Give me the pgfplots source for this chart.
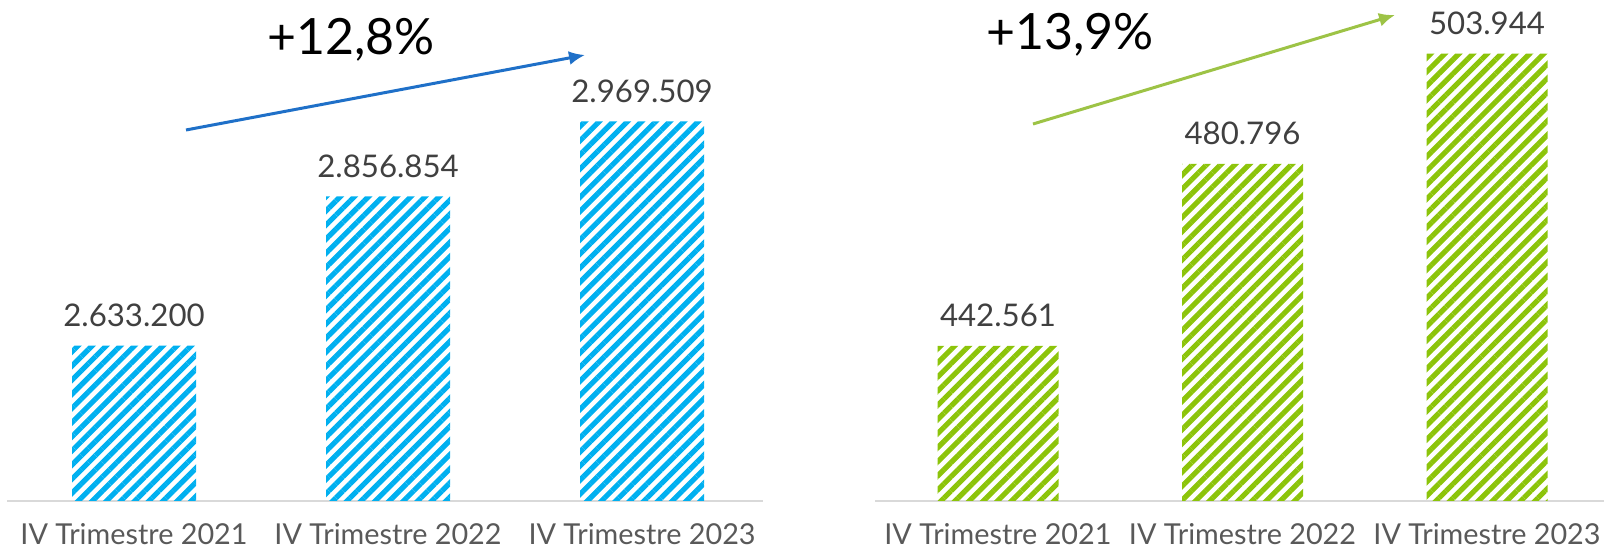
\documentclass[border=0pt]{standalone}
\usepackage{fontspec}
\setmainfont{Lato}
\usepackage{pgfplots}
\pgfplotsset{compat=1.18}
\usetikzlibrary{patterns.meta,arrows.meta}

\definecolor{barblue}{HTML}{00B0F0}
\definecolor{bargreen}{HTML}{8CC40A}
\definecolor{arrblue}{HTML}{1F70C8}
\definecolor{arrgreen}{HTML}{9DC346}
\definecolor{valgray}{HTML}{404040}
\definecolor{tickgray}{HTML}{595959}
\definecolor{axisgray}{HTML}{D9D9D9}

\pgfplotsset{
  trimestre/.style={
    scale only axis,
    height=250.5pt,
    anchor=south west,
    clip=false,
    axis y line=none,
    axis x line*=bottom,
    x axis line style={draw=axisgray, line width=1pt, -},
    xtick=data,
    xticklabels={IV Trimestre 2021, IV Trimestre 2022, IV Trimestre 2023},
    major tick length=0pt,
    xticklabel style={anchor=base, inner sep=0pt, yshift=-22pt,
      font=\fontsize{14.4}{16}\selectfont, text=tickgray},
    ybar,
    point meta=explicit symbolic,
    nodes near coords={\pgfplotspointmeta},
    every node near coord/.append style={anchor=base, inner sep=0pt, yshift=9.5pt,
      font=\fontsize{15.6}{18}\selectfont, text=valgray},
  }
}

\begin{document}
\begin{tikzpicture}
\path[use as bounding box] (0,0) rectangle (802.5pt,275.5pt);

% left panel
\begin{axis}[trimestre, at={(3.5pt,25pt)}, width=378pt,
    xmin=-0.5, xmax=2.476, ymin=2400000, ymax=3151500, bar width=62pt]
\addplot[draw=none, pattern={Lines[angle=45, distance=5pt, line width=2.6pt]},
    pattern color=barblue] coordinates {
  (0,2633200) [2.633.200]
  (1,2856854) [2.856.854]
  (2,2969509) [2.969.509]
};
\end{axis}

% right panel
\begin{axis}[trimestre, at={(437.5pt,25pt)}, width=364.7pt,
    xmin=-0.503, xmax=2.48, ymin=410000, ymax=515210, bar width=60.5pt]
\addplot[draw=none, pattern={Lines[angle=45, distance=5pt, line width=2.6pt]},
    pattern color=bargreen] coordinates {
  (0,442561) [442.561]
  (1,480796) [480.796]
  (2,503944) [503.944]
};
\end{axis}

% growth arrows
\draw[arrblue, line width=1.5pt, -{Latex[length=8pt,width=7pt]}] (93pt,210.5pt) -- (292.5pt,248pt);
\draw[arrgreen, line width=1.5pt, -{Latex[length=8pt,width=7pt]}] (516.5pt,213.5pt) -- (697.5pt,268pt);
\node[anchor=base, inner sep=0pt, font=\fontsize{25}{28}\selectfont] at (175.5pt,248pt) {+12,8\%};
\node[anchor=base, inner sep=0pt, font=\fontsize{25}{28}\selectfont] at (535pt,250.5pt) {+13,9\%};
\end{tikzpicture}
\end{document}
